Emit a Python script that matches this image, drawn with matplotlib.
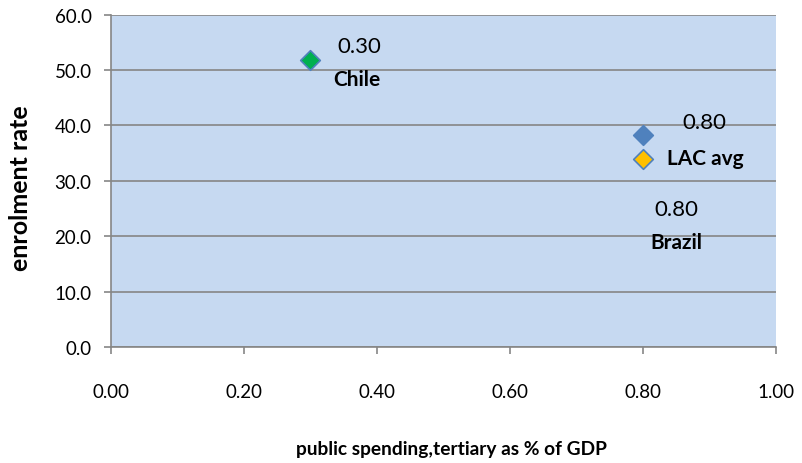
import matplotlib.pyplot as plt
from matplotlib.ticker import FormatStrFormatter

# data
names = ['Chile', 'Brazil', 'LAC avg']
spending = [0.30, 0.80, 0.80]
enrolment = [51.8, 38.3, 33.9]
fills = ['#00B050', '#4F81BD', '#FFC000']

plt.rcParams['font.family'] = ['Lato', 'DejaVu Sans']

fig = plt.figure(figsize=(8.03, 4.64), dpi=100)
ax = fig.add_axes([0.1382, 0.25, 0.828, 0.7164])
ax.set_facecolor('#C6D9F1')

for x, y, c in zip(spending, enrolment, fills):
    ax.scatter(x, y, marker='D', s=100, color=c, edgecolor='#4F81BD',
               linewidth=1.2, zorder=3)

# labels: value and name, placed where Excel put them
ax.text(0.340, 54.3, '0.30', fontsize=16, va='center')
ax.text(0.335, 48.4, 'Chile', fontsize=15, fontweight='bold', va='center')
ax.text(0.860, 40.6, '0.80', fontsize=16, va='center')
ax.text(0.836, 34.1, 'LAC avg', fontsize=15, fontweight='bold', va='center')
ax.text(0.818, 24.9, '0.80', fontsize=16, va='center')
ax.text(0.812, 19.0, 'Brazil', fontsize=15, fontweight='bold', va='center')

ax.set_xlim(0, 1)
ax.set_ylim(0, 60)
ax.set_xticks([0, 0.2, 0.4, 0.6, 0.8, 1.0])
ax.set_yticks(range(0, 61, 10))
ax.xaxis.set_major_formatter(FormatStrFormatter('%.2f'))
ax.yaxis.set_major_formatter(FormatStrFormatter('%.1f'))
ax.grid(axis='y', color='#868686', linewidth=1.2)
ax.set_axisbelow(True)
for s in ['top', 'right']:
    ax.spines[s].set_visible(False)
for s in ['left', 'bottom']:
    ax.spines[s].set_color('#868686')
    ax.spines[s].set_linewidth(1.2)
ax.tick_params(colors='#868686', labelcolor='black', labelsize=13.5, length=5,
               width=1.2)
ax.tick_params(axis='x', pad=21)
ax.tick_params(axis='y', pad=9)

ax.set_xlabel('public spending,tertiary as % of GDP', fontsize=13.8,
              fontweight='bold')
ax.set_ylabel('enrolment rate', fontsize=18, fontweight='bold')
ax.xaxis.set_label_coords(0.512, -0.304)
ax.xaxis.label.set_va('center')
ax.yaxis.set_label_coords(-0.136, 0.48)
ax.yaxis.label.set_va('center')

fig.savefig('out.png', dpi=100)
